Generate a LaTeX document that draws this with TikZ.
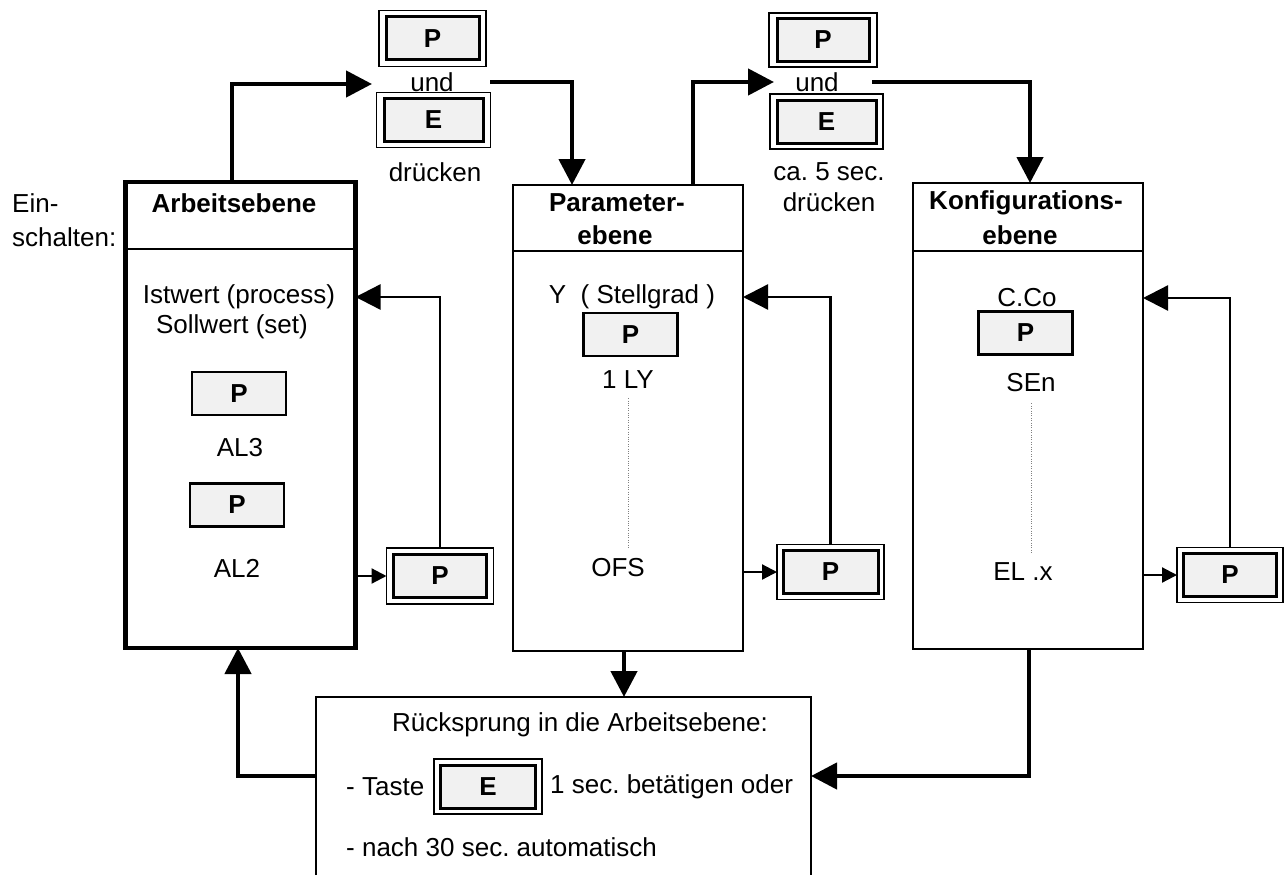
\documentclass[tikz,border=0pt]{standalone}
\usepackage{fontspec}
\setmainfont{Liberation Sans}
\usetikzlibrary{arrows.meta}
\definecolor{keyfill}{HTML}{F1F1F1}
\newcommand\fs{\fontsize{26}{30}\selectfont\frenchspacing}
\newcommand\KeyBtn[6]{%
  \node[keyin, minimum width=#4] (#1) at (#2) {#3};
  \node[keyout, minimum width=#5, minimum height=#6] (#1o) at (#2) {};
}
\begin{document}
\frenchspacing
\begin{tikzpicture}[x=1pt,y=-1pt,
  txt/.style={inner sep=0pt, font=\fs},
  hdr/.style={inner sep=0pt, font=\fs\bfseries, align=center},
  level/.style={draw, line width=2.7pt, minimum width=230pt, minimum height=466pt, outer sep=0pt, inner sep=0pt},
  keyin/.style={draw, line width=3pt, fill=keyfill, minimum height=43pt, inner sep=0pt, outer sep=0pt, font=\fs\bfseries},
  keyout/.style={draw, line width=1.6pt, inner sep=0pt, outer sep=0pt},
  keysingle/.style={draw, line width=2.5pt, fill=keyfill, minimum width=94pt, minimum height=43pt, inner sep=0pt, font=\fs\bfseries},
  flow/.style={line width=4.5pt, -{Triangle[length=26pt,width=26pt]}},
  fb/.style={line width=2.4pt, -{Triangle[length=25pt,width=25pt]}},
  small/.style={line width=2.2pt, -{Triangle[length=15pt,width=15pt]}},
  dots/.style={line width=0.8pt, gray, dash pattern=on 1pt off 1.4pt}
]
\useasboundingbox (0,0) rectangle (1287,875);

% level boxes
\node[level, line width=4.6pt] (arb) at (240.5,415) {};
\node[level] (par) at (628,418) {};
\node[level] (konf) at (1028,416) {};
\node[draw=none, minimum width=495pt, minimum height=178pt, inner sep=0pt, outer sep=0pt] (rs) at (563.5,786) {};
\draw[line width=2.2pt] (rs.south west) |- (rs.north east) -- (rs.south east);

% header separators
\draw[line width=2.7pt] ([yshift=-67pt]arb.north west) -- ([yshift=-67pt]arb.north east);
\draw[line width=2.7pt] ([yshift=-66pt]par.north west) -- ([yshift=-66pt]par.north east);
\draw[line width=2.7pt] ([yshift=-68pt]konf.north west) -- ([yshift=-68pt]konf.north east);

% left label
\node[txt, anchor=west] (ein) at (12,203) {Ein-};
\node[txt, anchor=west] (schalten) at (12,237) {schalten:};

% headers
\node[hdr] (arbh) at (234,203) {Arbeitsebene};
\node[hdr] (parh1) at (617,203) {Parameter-};
\node[hdr] (parh2) at (615,235) {ebene};
\node[hdr] (konfh1) at (1026,203) {Konfigurations-};
\node[hdr] (konfh2) at (1020,235) {ebene};

% Arbeitsebene content
\node[txt] (ist) at (239,297) {Istwert (process)};
\node[txt] (soll) at (232,327) {Sollwert (set)};
\node[keysingle] (pa1) at (239,393.5) {P};
\node[txt] (al3) at (240,448) {AL3};
\node[keysingle] (pa2) at (237,505) {P};
\node[txt] (al2) at (237,568) {AL2};
\KeyBtn{ka}{440,576}{P}{93pt}{107pt}{56pt}

% Parameterebene content
\node[txt] (y) at (632,297) {Y\hspace{14.5pt}( Stellgrad )};
\node[keysingle] (pp1) at (630.5,334.5) {P};
\node[txt] (ly) at (628,380) {1 LY};
\node[txt] (ofs) at (618,568) {OFS};
\KeyBtn{kp}{830.5,572}{P}{95pt}{107pt}{55pt}

% Konfigurationsebene content
\node[txt] (cco) at (1027,298) {C.Co};
\node[keysingle] (pk1) at (1025.5,333) {P};
\node[txt] (sen) at (1031,383) {SEn};
\node[txt] (elx) at (1023,572) {EL .x};
\KeyBtn{kk}{1230,575}{P}{93pt}{106pt}{55pt}

% top key groups
\KeyBtn{kta}{432.5,38.5}{P}{93pt}{107pt}{56pt}
\node[txt] (und1) at (432,82) {und};
\KeyBtn{ktb}{433.5,120}{E}{99pt}{114pt}{55pt}
\node[txt] (dr1) at (435,172) {drücken};
\KeyBtn{ktc}{823,40}{P}{92pt}{108pt}{54pt}
\node[txt] (und2) at (817,82) {und};
\KeyBtn{ktd}{826.5,121.5}{E}{99pt}{113pt}{55pt}
\node[txt] (ca) at (829,172) {ca. 5 sec.};
\node[txt] (dr2) at (829,202) {drücken};

% Ruecksprung content
\node[txt] (rst) at (580,725) {Rücksprung in die Arbeitsebene:};
\node[txt, anchor=west] (taste) at (346,787) {- Taste};
\KeyBtn{ke}{488,786.5}{E}{95pt}{108pt}{55pt}
\node[txt, anchor=west] (sec) at (550,787) {1 sec. betätigen oder};
\node[txt, anchor=west] (nach) at (346,847) {- nach 30 sec. automatisch};

% main flow
\coordinate (c1) at (232,84);
\coordinate (t1) at (372,84);
\draw[flow] (c1 |- arb.north) -- (c1) -- (t1);
\coordinate (s2) at (490,82);
\coordinate (c2) at (572,82);
\draw[flow] (s2) -- (c2) -- (c2 |- par.north);
\coordinate (c3) at (693,82);
\coordinate (t3) at (774,82);
\draw[flow] (c3 |- par.north) -- (c3) -- (t3);
\coordinate (s4) at (872,82);
\coordinate (c4) at (1030,82);
\draw[flow] (s4) -- (c4) -- (c4 |- konf.north);
\coordinate (c5) at (624,0);
\draw[flow] (c5 |- par.south) -- (c5 |- rs.north);
\coordinate (c6) at (1029,776);
\draw[flow] (c6 |- konf.south) -- (c6) -- (c6 -| rs.east);
\coordinate (c7) at (238,776);
\draw[flow] (c7 -| rs.west) -- (c7) -- (c7 |- arb.south);

% feedback loops
\draw[fb] (kao.north) |- (arb.east |- ist);
\draw[fb] (kpo.north) |- (par.east |- y);
\draw[fb] (kko.north) |- (konf.east |- cco);

% small arrows into keys
\draw[small] (arb.east |- kao.west) -- (kao.west);
\draw[small] (par.east |- kpo.west) -- (kpo.west);
\draw[small] (konf.east |- kko.west) -- (kko.west);

% dotted continuation
\draw[dots] ([yshift=-9pt]ly.south) -- ([yshift=10pt]ly.south |- ofs.north);
\draw[dots] ([yshift=-11pt]sen.south) -- ([yshift=10pt]sen.south |- elx.north);
\end{tikzpicture}
\end{document}
